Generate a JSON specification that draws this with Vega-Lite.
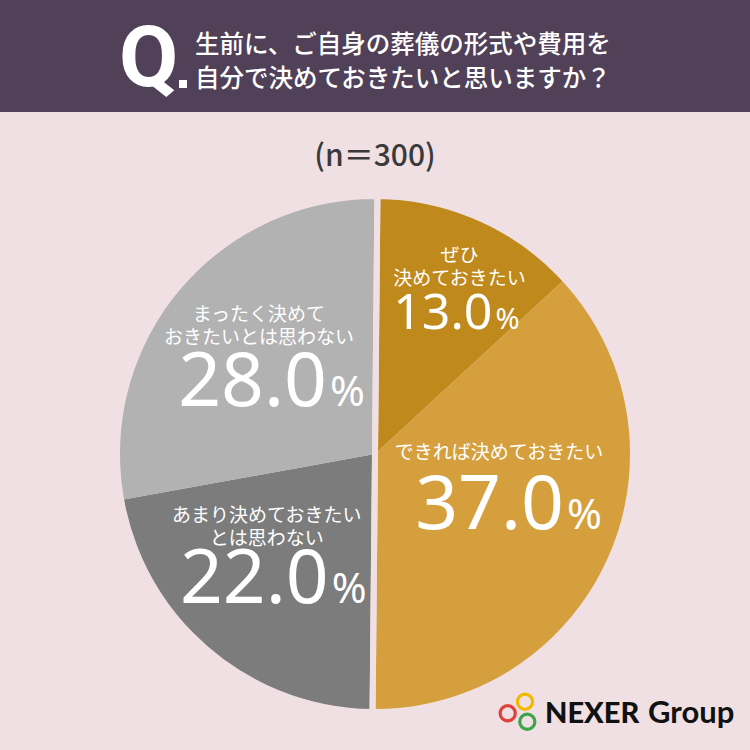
{
  "$schema": "https://vega.github.io/schema/vega-lite/v6.json",
  "background": "#f0e0e3",
  "padding": 0,
  "spacing": 0,
  "bounds": "flush",
  "config": {"view": {"stroke": null}, "concat": {"spacing": 0}},
  "datasets": {
    "answers": [
      {"answer": "ぜひ決めておきたい", "label": "ぜひ\n決めておきたい", "pct": 13.0, "group": "決めておきたい", "rank": 1},
      {"answer": "できれば決めておきたい", "label": "できれば決めておきたい", "pct": 37.0, "group": "決めておきたい", "rank": 2},
      {"answer": "あまり決めておきたいとは思わない", "label": "あまり決めておきたい\nとは思わない", "pct": 22.0, "group": "思わない", "rank": 3},
      {"answer": "まったく決めておきたいとは思わない", "label": "まったく決めて\nおきたいとは思わない", "pct": 28.0, "group": "思わない", "rank": 4}
    ]
  },
  "vconcat": [
    {
      "width": 750,
      "height": 112,
      "view": {"fill": "#504058", "stroke": null},
      "data": {"values": [{}]},
      "layer": [
        {
          "mark": {"type": "text", "text": "Q", "font": "Roboto", "fontWeight": 700, "fontSize": 86, "color": "white", "align": "left", "baseline": "alphabetic", "dx": -256, "dy": 30},
          "encoding": {}
        },
        {
          "mark": {"type": "point", "shape": "square", "filled": true, "opacity": 1, "size": 64, "color": "white", "x": 183, "y": 84},
          "encoding": {}
        },
        {
          "mark": {"type": "text", "text": ["生前に、ご自身の葬儀の形式や費用を", "自分で決めておきたいと思いますか？"], "font": "Noto Sans CJK JP", "fontWeight": 500, "fontSize": 24.5, "lineHeight": 34, "color": "white", "align": "left", "baseline": "middle", "dx": -180, "dy": -10},
          "encoding": {}
        }
      ]
    },
    {
      "width": 750,
      "height": 46,
      "data": {"values": [{}]},
      "mark": {"type": "text", "text": "(n＝300)", "font": "Noto Sans CJK JP", "fontWeight": 500, "fontSize": 30, "color": "#3a3a3a", "align": "center", "baseline": "middle", "dy": 22},
      "encoding": {}
    },
    {
      "width": 750,
      "height": 592,
      "layer": [
        {
          "data": {"name": "answers"},
          "mark": {"type": "arc", "radius": 258},
          "encoding": {
            "theta": {"field": "pct", "type": "quantitative", "stack": true, "scale": {"range": [0.0094, 6.2926]}},
            "order": {"field": "rank"},
            "color": {
              "field": "answer",
              "type": "nominal",
              "scale": {
                "domain": ["ぜひ決めておきたい", "できれば決めておきたい", "あまり決めておきたいとは思わない", "まったく決めておきたいとは思わない"],
                "range": ["#c0891c", "#d69f3e", "#7c7c7c", "#b2b2b2"]
              },
              "legend": null
            }
          }
        },
        {
          "data": {"name": "answers"},
          "transform": [
            {"aggregate": [{"op": "sum", "field": "pct", "as": "pct"}, {"op": "min", "field": "rank", "as": "rank"}], "groupby": ["group"]}
          ],
          "mark": {"type": "arc", "radius": 258, "fill": "#000000", "fillOpacity": 0, "stroke": "#f0e0e3", "strokeWidth": 6},
          "encoding": {
            "theta": {"field": "pct", "type": "quantitative", "stack": true},
            "order": {"field": "rank"}
          }
        },
        {
          "data": {"name": "answers"},
          "mark": {
            "type": "text",
            "radius": {"expr": "datum.pct < 20 ? 186 : 140"},
            "font": "Noto Sans CJK JP",
            "fontWeight": 400,
            "fontSize": 19,
            "lineHeight": 23,
            "lineBreak": "\n",
            "color": "white",
            "align": "center",
            "baseline": "bottom",
            "dx": {"expr": "datum.rank == 1 ? 9 : datum.rank == 2 ? -4 : datum.rank == 3 ? -18 : -9"},
            "dy": {"expr": "datum.rank == 1 ? -18 : datum.rank == 2 ? -48 : datum.rank == 3 ? -35 : -39"}
          },
          "encoding": {
            "theta": {"field": "pct", "type": "quantitative", "stack": true},
            "order": {"field": "rank"},
            "text": {"field": "label", "type": "nominal"}
          }
        },
        {
          "data": {"name": "answers"},
          "mark": {
            "type": "text",
            "radius": {"expr": "datum.pct < 20 ? 186 : 140"},
            "font": "Noto Sans",
            "fontSize": {"expr": "datum.pct < 20 ? 50 : 75"},
            "color": "white",
            "align": "right",
            "baseline": "alphabetic",
            "dx": {"expr": "datum.rank == 1 ? 42 : datum.rank == 2 ? 61 : datum.rank == 3 ? 44 : 59"},
            "dy": {"expr": "datum.rank == 1 ? 45 : datum.rank == 2 ? 18 : 42"}
          },
          "encoding": {
            "theta": {"field": "pct", "type": "quantitative", "stack": true},
            "order": {"field": "rank"},
            "text": {"field": "pct", "type": "quantitative", "format": ".1f"}
          }
        },
        {
          "data": {"name": "answers"},
          "mark": {
            "type": "text",
            "radius": {"expr": "datum.pct < 20 ? 186 : 140"},
            "font": "Noto Sans",
            "fontSize": {"expr": "datum.pct < 20 ? 29 : 42"},
            "color": "white",
            "align": "left",
            "baseline": "alphabetic",
            "dx": {"expr": "datum.rank == 1 ? 45 : datum.rank == 2 ? 64 : datum.rank == 3 ? 47 : 62"},
            "dy": {"expr": "datum.rank == 1 ? 45 : datum.rank == 2 ? 18 : 42"}
          },
          "encoding": {
            "theta": {"field": "pct", "type": "quantitative", "stack": true},
            "order": {"field": "rank"},
            "text": {"value": "%"}
          }
        },
        {
          "data": {"values": [{}]},
          "mark": {"type": "point", "shape": "circle", "filled": false, "opacity": 1, "size": 230, "strokeWidth": 3.2, "stroke": "#f2b800", "x": 525, "y": 543.7},
          "encoding": {}
        },
        {
          "data": {"values": [{}]},
          "mark": {"type": "point", "shape": "circle", "filled": false, "opacity": 1, "size": 230, "strokeWidth": 3.2, "stroke": "#e2413b", "x": 507.7, "y": 555.3},
          "encoding": {}
        },
        {
          "data": {"values": [{}]},
          "mark": {"type": "point", "shape": "circle", "filled": false, "opacity": 1, "size": 230, "strokeWidth": 3.2, "stroke": "#3aa648", "x": 527.3, "y": 563.7},
          "encoding": {}
        },
        {
          "data": {"values": [{}]},
          "mark": {"type": "text", "text": "NEXER", "font": "Lato", "fontWeight": 900, "fontSize": 29, "color": "#111111", "align": "left", "baseline": "alphabetic", "x": 545, "y": 565},
          "encoding": {}
        },
        {
          "data": {"values": [{}]},
          "mark": {"type": "text", "text": "Group", "font": "Lato", "fontWeight": 700, "fontSize": 31, "color": "#111111", "align": "left", "baseline": "alphabetic", "x": 648, "y": 565},
          "encoding": {}
        }
      ]
    }
  ]
}
